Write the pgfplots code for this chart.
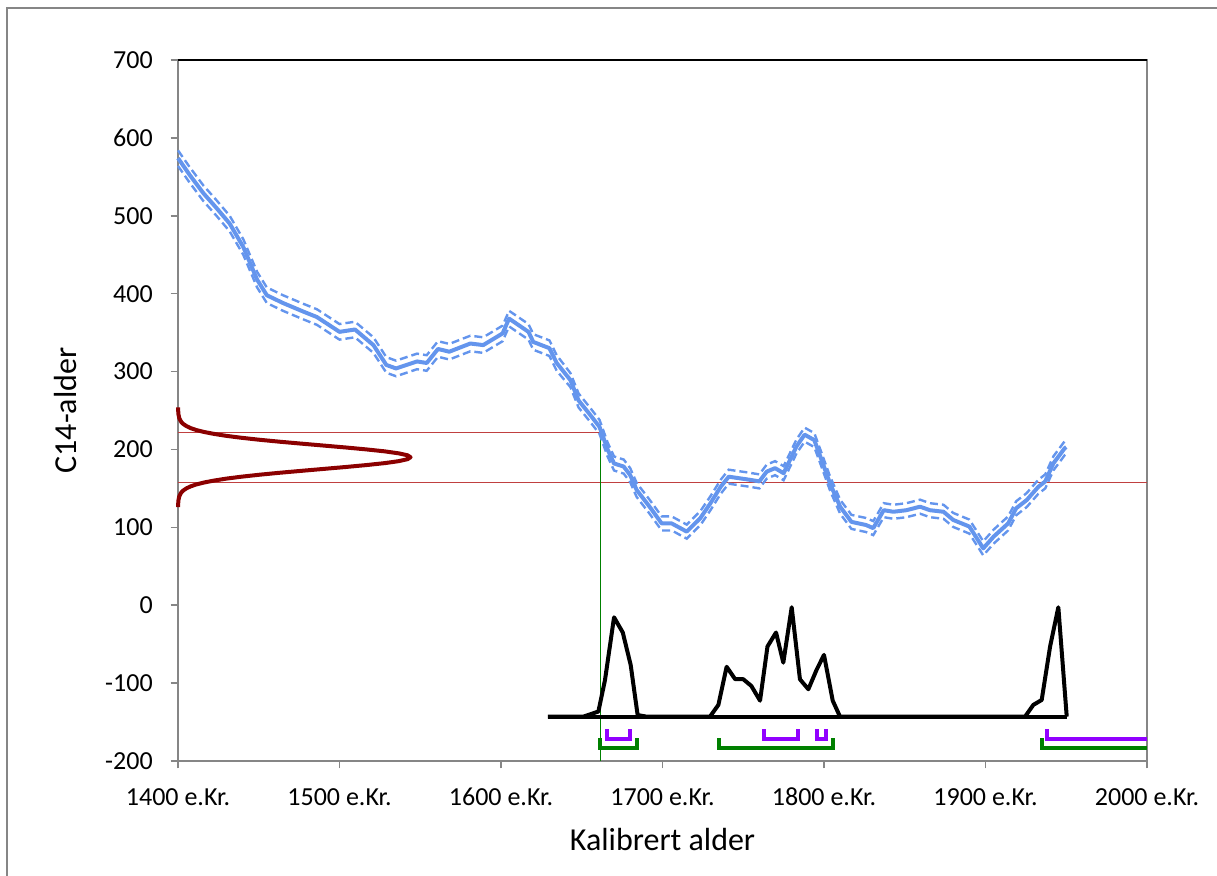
\documentclass[border=0pt]{standalone}
\usepackage{pgfplots}
\usepackage{pgfplotstable}
\pgfplotsset{compat=1.18}
\usepackage{fontspec}
\setmainfont{Carlito}
\definecolor{cblue}{RGB}{100,149,237}
\definecolor{dred}{RGB}{139,0,0}
\definecolor{lred}{RGB}{192,64,64}
\definecolor{dgreen}{RGB}{0,128,0}
\definecolor{cpurple}{RGB}{145,0,255}
\definecolor{axgray}{RGB}{134,134,134}

\pgfplotstableread{
year mid lo hi
1400 574 564 584
1407.4 552 542 562
1415.7 529 519 539
1424 509.6 499.6 519.6
1432 490 480 500
1440.4 460 450 470
1449 418 408 428
1455 398 388 408
1465 388 378 398
1477.6 377 367 387
1486 370 360 380
1500 351 341 361
1509.6 354 344 364
1521 334 324 344
1529 308.5 298.5 318.5
1535 304 294 314
1548 313 303 323
1554 311 301 321
1561 329 319 339
1568 325.5 315.5 335.5
1581 336 326 346
1589 334 324 344
1601 349 339 359
1605 368 358 378
1617 351 341 361
1620 338 328 348
1630 330 320 340
1634.5 311 301 321
1643 289 280 298
1648 263 254 272
1655 245 236 254
1661 229 220 238
1666 200 191 209
1670 182 173 191
1676 178 169 187
1680 167 158 176
1684 148 139 157
1692 126.5 117.5 135.5
1699.5 105 96 114
1705.7 105 96 114
1715 94.5 85.5 103.5
1723.5 112 103 121
1729.7 131 122 140
1736 152 143 161
1741 165 156 174
1752 161.7 152.7 170.7
1760 159 150 168
1764.5 171.5 162.5 180.5
1769.7 176 167 185
1775 169.5 160.5 178.5
1783 204 195 213
1788 219 210 228
1794 212 203 221
1798.5 186.5 177.5 195.5
1803.7 156.5 147.5 165.5
1810 126.5 117.5 135.5
1817 107 98 116
1826 103 94 112
1830.5 99 90 108
1837 122 113 131
1843 120 111 129
1851 122 113 131
1859.5 126.5 117.5 135.5
1865.6 122 113 131
1874 120 111 129
1880 109.5 100.5 118.5
1890 101 92 110
1896.6 79.6 70.6 88.6
1898.6 73 64 82
1905 88 79 97
1914 105 96 114
1919 124.5 115.5 133.5
1925.5 135 126 144
1932.7 152 143 161
1937 159 150 168
1942 182 173 191
1949 201.5 192.5 210.5
1950 203 194 212
}\calcurve

\pgfplotstableread{
x y
1400.0 126
1400.1 130
1400.3 135
1400.8 140
1402.1 145
1403.4 147.5
1405.2 150
1407.7 152.5
1411.2 155
1416.0 157.5
1422.2 160
1429.8 162.5
1439.2 165
1450.2 167.5
1462.6 170
1476.2 172.5
1490.1 175
1504.0 177.5
1516.9 180
1528.2 182.5
1536.7 185
1542.1 187.5
1544.0 190
1542.1 192.5
1536.7 195
1528.2 197.5
1516.9 200
1504.0 202.5
1490.1 205
1476.2 207.5
1462.6 210
1450.2 212.5
1439.2 215
1429.8 217.5
1422.2 220
1416.0 222.5
1411.2 225
1407.7 227.5
1405.2 230
1403.4 232.5
1402.1 235
1400.8 240
1400.3 245
1400.1 250
1400.0 254
}\gauss

\pgfplotstableread{
x y
1629 -143
1651 -143
1660.3 -136.5
1664.4 -96
1670 -15.5
1675.4 -35
1680.3 -76.7
1684.6 -141
1690 -143
1729.4 -143
1734.6 -128
1739.7 -79
1745 -95
1750 -95
1755 -103.6
1760.4 -122.5
1765 -53
1770.3 -35
1774.8 -73.7
1780 -2.6
1785.1 -95
1790.3 -107.9
1795.4 -83
1800 -63.8
1805.4 -122.5
1809.9 -143
1924.5 -143
1929.6 -128
1934.8 -121.6
1940 -53
1945.1 -2.6
1950.3 -143
}\probdist

\begin{document}
\begin{tikzpicture}
\useasboundingbox (-133.5pt,-85.5pt) rectangle (779.25pt,570.75pt);
\draw[axgray, line width=1.5pt] (-128.25pt,-120pt) -- (-128.25pt,564.75pt) -- (820pt,564.75pt);
\begin{axis}[
  at={(0pt,0pt)}, anchor=south west,
  scale only axis, width=726.75pt, height=525.75pt,
  xmin=1400, xmax=2000, ymin=-200, ymax=700,
  xtick={1400,1500,1600,1700,1800,1900,2000},
  xticklabels={1400 e.Kr.,1500 e.Kr.,1600 e.Kr.,1700 e.Kr.,1800 e.Kr.,1900 e.Kr.,2000 e.Kr.},
  ytick={-200,-100,0,100,200,300,400,500,600,700},
  yticklabels={-200,-100,0,100,200,300,400,500,600,700},
  tick align=outside, xtick pos=left, ytick pos=left,
  major tick length=5.5pt,
  every tick/.style={axgray, line width=1.2pt},
  axis line style={axgray, line width=1.5pt},
  ticklabel style={font=\fontsize{19.5}{23}\selectfont, inner sep=0pt},
  xticklabel style={anchor=base, yshift=-27.5pt},
  yticklabel style={anchor=east, xshift=-13.25pt},
  clip=false,
]
\addplot[lred, line width=0.9pt] coordinates {(1400,222) (1661.5,222)};
\addplot[lred, line width=0.9pt] coordinates {(1400,158) (2000,158)};
\addplot[dgreen, line width=0.9pt] coordinates {(1661.5,222) (1661.5,-200)};

\addplot[cblue, line width=3pt, line join=round] table[x=year, y=mid] {\calcurve};
\addplot[cblue, line width=1.8pt, dash pattern=on 6pt off 3pt] table[x=year, y=hi] {\calcurve};
\addplot[cblue, line width=1.8pt, dash pattern=on 6pt off 3pt] table[x=year, y=lo] {\calcurve};

\addplot[dred, line width=3pt, line join=round] table[x=x, y=y] {\gauss};

\addplot[black, line width=3pt, line join=round] coordinates {(1629,-143) (1950.3,-143)};
\addplot[black, line width=3pt, line join=round] table[x=x, y=y] {\probdist};

\addplot[cpurple, line width=3pt, line join=miter] coordinates {(1665.8,-159.3) (1665.8,-171.7) (1679.9,-171.7) (1679.9,-159.3)};
\addplot[cpurple, line width=3pt, line join=miter] coordinates {(1763,-159.3) (1763,-171.7) (1784.1,-171.7) (1784.1,-159.3)};
\addplot[cpurple, line width=3pt, line join=miter] coordinates {(1795.4,-159.3) (1795.4,-171.7) (1801.2,-171.7) (1801.2,-159.3)};
\addplot[cpurple, line width=3pt, line join=miter] coordinates {(1938.3,-159.3) (1938.3,-171.7) (2000,-171.7)};
\addplot[dgreen, line width=3pt, line join=miter] coordinates {(1661.3,-171) (1661.3,-182.9) (1684.4,-182.9) (1684.4,-171)};
\addplot[dgreen, line width=3pt, line join=miter] coordinates {(1735,-171) (1735,-182.9) (1805.8,-182.9) (1805.8,-171)};
\addplot[dgreen, line width=3pt, line join=miter] coordinates {(1934.8,-171) (1934.8,-182.9) (2000,-182.9)};

\draw[black, line width=1.5pt] (rel axis cs:0,1) -- (rel axis cs:1,1);
\end{axis}
\node[font=\fontsize{24}{28}\selectfont, anchor=base, inner sep=0pt] at (363.4pt,-66.75pt) {Kalibrert alder};
\node[font=\fontsize{24}{28}\selectfont, anchor=base, rotate=90, inner sep=0pt] at (-75.75pt,262.9pt) {C14-alder};
\end{tikzpicture}
\end{document}
